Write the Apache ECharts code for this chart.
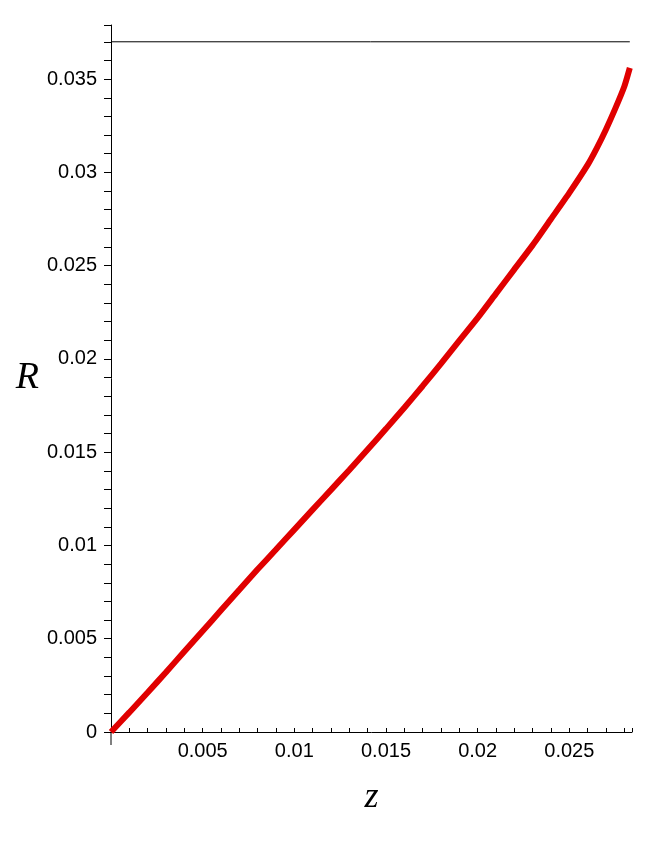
<!DOCTYPE html>
<html>
<head>
<meta charset="utf-8">
<title>R vs z</title>
<script src="https://cdn.jsdelivr.net/npm/echarts@6/dist/echarts.min.js"></script>
<style>
  html, body { margin: 0; padding: 0; background: #fff; }
  #chart { width: 672px; height: 843px; }
</style>
</head>
<body>
<div id="chart"></div>
<script>
// curve R(z)
const zValues = [0, 0.001, 0.002, 0.003, 0.004, 0.005, 0.006, 0.007, 0.008, 0.009,
  0.010, 0.011, 0.012, 0.013, 0.014, 0.015, 0.016, 0.017, 0.018, 0.019,
  0.020, 0.021, 0.022, 0.023, 0.024, 0.025, 0.026, 0.0265, 0.027, 0.0275, 0.028, 0.0283]
const rValues = [0, 0.00105, 0.00212, 0.0032, 0.00432, 0.00542, 0.00652, 0.00762, 0.00872, 0.00978,
  0.01085, 0.01192, 0.01298, 0.01405, 0.01515, 0.01625, 0.01738, 0.01855, 0.01975, 0.02098,
  0.0222, 0.0235, 0.0248, 0.0261, 0.0275, 0.0289, 0.0304, 0.0313, 0.0323, 0.0334, 0.0346, 0.0356]
// horizontal reference line
const levelZ = [0, 0.0283]
const levelR = [0.037, 0.037]
const xTickStep = 0.005
const yTickStep = 0.005

const fmt = v => String(+v.toFixed(4))
const curve = zValues.map((z, i) => [z, rValues[i]])
const level = levelZ.map((z, i) => [z, levelR[i]])

const chart = echarts.init(document.getElementById('chart'))
const option = {
  animation: false,
  grid: { left: 111, right: 40, top: 25, bottom: 111 },
  xAxis: {
    type: 'value',
    min: 0,
    max: 0.02842,
    interval: xTickStep,
    name: 'z',
    nameLocation: 'middle',
    nameGap: 48,
    nameTextStyle: { fontFamily: 'Liberation Serif', fontStyle: 'italic', fontSize: 36, color: '#000' },
    axisLine: { lineStyle: { color: '#000', width: 1 } },
    axisTick: { inside: true, length: 4, lineStyle: { color: '#000' } },
    minorTick: { show: true, splitNumber: 5, length: 4, lineStyle: { color: '#000' } },
    axisLabel: {
      showMinLabel: false, showMaxLabel: false, margin: 9,
      fontFamily: 'Liberation Sans', fontSize: 20, color: '#000',
      formatter: fmt
    },
    splitLine: { show: false }
  },
  yAxis: {
    type: 'value',
    min: 0,
    max: 0.0379,
    interval: yTickStep,
    name: 'R',
    nameLocation: 'middle',
    nameRotate: 0,
    nameGap: 72,
    nameTextStyle: { fontFamily: 'Liberation Serif', fontStyle: 'italic', fontSize: 38, color: '#000' },
    axisLine: { show: true, lineStyle: { color: '#000', width: 1 } },
    axisTick: { show: true, length: 7, lineStyle: { color: '#000' } },
    minorTick: { show: true, splitNumber: 5, length: 7, lineStyle: { color: '#000' } },
    axisLabel: {
      showMaxLabel: false, margin: 14,
      fontFamily: 'Liberation Sans', fontSize: 20, color: '#000',
      formatter: fmt
    },
    splitLine: { show: false }
  },
  graphic: [{
    type: 'line',
    shape: { x1: 111, y1: 732, x2: 111, y2: 745 },
    style: { stroke: '#000', lineWidth: 1 }
  }],
  series: [
    {
      type: 'line',
      data: level,
      showSymbol: false,
      lineStyle: { color: '#000', width: 1 },
      z: 1
    },
    {
      type: 'line',
      data: curve,
      smooth: 0.2,
      showSymbol: false,
      lineStyle: { color: '#e00000', width: 6 },
      z: 2
    }
  ]
}
chart.setOption(option)
</script>
</body>
</html>
